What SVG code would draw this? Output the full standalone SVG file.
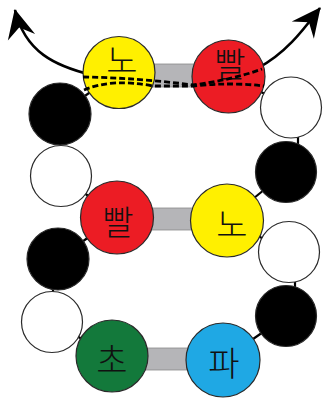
<svg xmlns="http://www.w3.org/2000/svg" width="323" height="399" viewBox="0 0 323 399">
<style>
.bb{stroke:#000;stroke-width:2.2;fill:none}
.c{stroke:#2a2a2a;stroke-width:1.2}
.blk{fill:#000}
.wht{fill:#fff}
.yel{fill:#fff000}
.red{fill:#ec1c24}
.grn{fill:#13793b}
.blu{fill:#1fa8e4}
.bar{fill:#b5b5b8;stroke:#8a8a8a;stroke-width:0.8}
.t{font-family:"Noto Sans CJK KR","Noto Sans",sans-serif;font-size:34px;font-weight:300;text-anchor:middle;dominant-baseline:central;fill:#111}
.arr{stroke:#000;stroke-width:2.6;fill:none;marker-end:url(#ah)}
.dash{stroke:#000;stroke-width:2.8;fill:none;stroke-dasharray:6 3}
</style>
<defs>
<marker id="ah" markerUnits="userSpaceOnUse" viewBox="-30 -16 32 32" refX="0" refY="0" markerWidth="32" markerHeight="32" orient="auto">
<path d="M1,0 L-28,-14 L-18,0 L-28,14 Z" fill="#000"/>
</marker>
</defs>
<g id="connectors">
<path class="arr" d="M92,75 C55,66 25,52 15,10"/>
<path class="arr" d="M258,68 C288,52 306,26 320,8"/>
<line class="bb" x1="60" y1="114" x2="118" y2="72"/>
<line class="bb" x1="117" y1="217" x2="58" y2="259"/>
<line class="bb" x1="53" y1="280" x2="53" y2="300"/>
<line class="bb" x1="61" y1="176" x2="117" y2="217"/>
<line class="bb" x1="52" y1="322" x2="112" y2="356"/>
<line class="bb" x1="298" y1="130" x2="298" y2="150"/>
<line class="bb" x1="286" y1="172" x2="227" y2="220"/>
<line class="bb" x1="227" y1="220" x2="289" y2="252"/>
<line class="bb" x1="295" y1="276" x2="295" y2="294"/>
<line class="bb" x1="286" y1="316" x2="223" y2="360"/>
<line class="bb" x1="229" y1="76" x2="291" y2="107"/>
</g>
<g id="bar-top"><rect class="bar" x="145" y="64" width="60" height="23"/></g>
<g id="bar-mid"><rect class="bar" x="143" y="208" width="60" height="22"/></g>
<g id="bar-bot"><rect class="bar" x="138" y="348" width="60" height="22"/></g>
<g id="b1"><circle class="c blk" cx="60" cy="114" r="31"/></g>
<g id="w1"><circle class="c wht" cx="61" cy="176" r="30.5"/></g>
<g id="b2"><circle class="c blk" cx="58" cy="259" r="31"/></g>
<g id="w2"><circle class="c wht" cx="52" cy="322" r="30.5"/></g>
<g id="w3"><circle class="c wht" cx="291" cy="107.5" r="30.5"/></g>
<g id="b3"><circle class="c blk" cx="286" cy="172" r="30.5"/></g>
<g id="w4"><circle class="c wht" cx="289" cy="252" r="30.5"/></g>
<g id="b4"><circle class="c blk" cx="286" cy="316" r="30.5"/></g>
<g id="no-top"><circle class="c yel" cx="119" cy="72.5" r="36"/><text class="t" x="122" y="58">노</text></g>
<g id="ppal-top"><circle class="c red" cx="228.5" cy="76.5" r="36.5"/><text class="t" x="230" y="62">빨</text></g>
<g id="ppal-mid"><circle class="c red" cx="117" cy="217.5" r="36.5"/><text class="t" x="118" y="220">빨</text></g>
<g id="no-mid"><circle class="c yel" cx="227" cy="220.5" r="36.5"/><text class="t" x="232" y="222">노</text></g>
<g id="cho"><circle class="c grn" cx="112" cy="356" r="36"/><text class="t" x="112" y="358">초</text></g>
<g id="pa"><circle class="c blu" cx="223" cy="360" r="37"/><text class="t" x="224" y="361">파</text></g>
<g id="dashes">
<path class="dash" d="M83,77 Q140,78 193,85 Q232,80 262,69"/>
<path class="dash" d="M84,90 Q112,78 153,86 L193,86 Q232,82 264,86"/>
</g>
</svg>
